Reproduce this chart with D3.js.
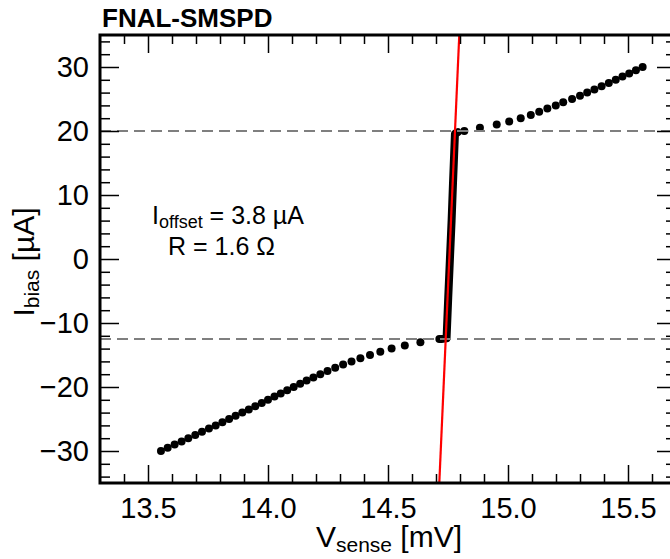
<!DOCTYPE html>
<html>
<head>
<meta charset="utf-8">
<script src="https://cdn.jsdelivr.net/npm/d3@7"></script>
<style>
  body { margin: 0; background: #fff; }
  svg text { font-family: "Liberation Sans", Arial, Helvetica, sans-serif; fill: #000; }
</style>
</head>
<body>
<div id="chart"></div>
<script>
// I-V scan, values
// lower (superconducting -> normal) branch
const lowerI = [-30, -29.5, -29, -28.5, -28, -27.5, -27, -26.5, -26, -25.5, -25, -24.5,
  -24, -23.5, -23, -22.5, -22, -21.5, -21, -20.5, -20, -19.5, -19, -18.5, -18, -17.5,
  -17, -16.5, -16, -15.5, -15, -14.5, -14, -13.5, -13, -12.5];
const lowerV = [13.554, 13.582, 13.611, 13.64, 13.668, 13.697, 13.725, 13.754, 13.782,
  13.81, 13.838, 13.865, 13.893, 13.92, 13.947, 13.974, 14.0, 14.027, 14.053, 14.08,
  14.107, 14.134, 14.161, 14.189, 14.218, 14.248, 14.28, 14.313, 14.348, 14.385,
  14.425, 14.468, 14.515, 14.57, 14.635, 14.714];

// upper branch
const upperI = [20, 20.5, 21, 21.5, 22, 22.5, 23, 23.5, 24, 24.5, 25, 25.5, 26, 26.5,
  27, 27.5, 28, 28.5, 29, 29.5, 30];
const upperV = [14.818, 14.883, 14.953, 15.005, 15.053, 15.095, 15.13, 15.164, 15.199,
  15.23, 15.267, 15.3, 15.33, 15.36, 15.39, 15.42, 15.449, 15.477, 15.505, 15.533, 15.561];

// steep (dense) part of the scan
const transI = [-12.5, -12.4, -6, 0, 6, 12, 19.6, 19.8];
const transV = [14.722, 14.744, 14.751, 14.758, 14.765, 14.771, 14.779, 14.79];

// linear fit
const fitV = [14.7137, 14.797];
const fitI = [-35, 35];

// switching thresholds
const levels = [20, -12.5];

const xMajor = [13.5, 14.0, 14.5, 15.0, 15.5];
const yMajor = [-30, -20, -10, 0, 10, 20, 30];

const W = 670, H = 559;
const margin = { top: 35, left: 100, bottom: 76 };

const svg = d3.select("#chart").append("svg")
  .attr("width", W)
  .attr("height", H);

const x = d3.scaleLinear().domain([13.3, 15.7]).range([margin.left, 676]);
const y = d3.scaleLinear().domain([-35, 35]).range([H - margin.bottom, margin.top]);

const xMinor = d3.range(134, 157).map(d => d / 10).filter(d => !xMajor.includes(d));
const yMinor = d3.range(-34, 35, 2).filter(d => !yMajor.includes(d));

// title
svg.append("text")
  .attr("x", 102)
  .attr("y", 27)
  .attr("font-size", 26)
  .attr("font-weight", "bold")
  .text("FNAL-SMSPD");

// points
const lower = lowerV.map((v, i) => ({ v: v, i: lowerI[i] }));
const upper = upperV.map((v, i) => ({ v: v, i: upperI[i] }));
const trans = transV.map((v, i) => ({ v: v, i: transI[i] }));

svg.append("path")
  .datum(trans)
  .attr("fill", "none")
  .attr("stroke", "#000")
  .attr("stroke-width", 8)
  .attr("stroke-linecap", "round")
  .attr("stroke-linejoin", "round")
  .attr("d", d3.line().x(d => x(d.v)).y(d => y(d.i)));

svg.append("g")
  .selectAll("circle")
  .data(lower.concat(upper))
  .join("circle")
  .attr("cx", d => x(d.v))
  .attr("cy", d => y(d.i))
  .attr("r", 4)
  .attr("fill", "#000");

// dashed threshold lines
svg.append("g")
  .selectAll("line")
  .data(levels)
  .join("line")
  .attr("x1", x.range()[0])
  .attr("x2", x.range()[1])
  .attr("y1", d => y(d))
  .attr("y2", d => y(d))
  .attr("stroke", "#7f7f7f")
  .attr("stroke-width", 2.2)
  .attr("stroke-dasharray", "11,6");

// fit line
svg.append("line")
  .attr("x1", x(fitV[0]))
  .attr("y1", y(fitI[0]))
  .attr("x2", x(fitV[1]))
  .attr("y2", y(fitI[1]))
  .attr("stroke", "#ff0000")
  .attr("stroke-width", 2.2);

// axes, ticks pointing inward on all four sides
function styleAxis(g) {
  g.select(".domain").remove();
  g.selectAll(".tick line").attr("stroke", "#000").attr("stroke-width", 1.5);
  g.selectAll("text").attr("font-size", 29).attr("font-family", null);
}

const bottomY = y.range()[0], topY = y.range()[1];
const leftX = x.range()[0], rightX = x.range()[1];

svg.append("g")
  .attr("transform", `translate(0,${bottomY})`)
  .call(d3.axisBottom(x).tickValues(xMajor).tickSize(-18).tickPadding(14).tickFormat(d3.format(".1f")))
  .call(styleAxis);
svg.append("g")
  .attr("transform", `translate(0,${bottomY})`)
  .call(d3.axisBottom(x).tickValues(xMinor).tickSize(-9).tickFormat(""))
  .call(styleAxis);
svg.append("g")
  .attr("transform", `translate(0,${topY})`)
  .call(d3.axisTop(x).tickValues(xMajor).tickSize(-18).tickFormat(""))
  .call(styleAxis);
svg.append("g")
  .attr("transform", `translate(0,${topY})`)
  .call(d3.axisTop(x).tickValues(xMinor).tickSize(-9).tickFormat(""))
  .call(styleAxis);

svg.append("g")
  .attr("transform", `translate(${leftX},0)`)
  .call(d3.axisLeft(y).tickValues(yMajor).tickSize(-19).tickPadding(11))
  .call(styleAxis);
svg.append("g")
  .attr("transform", `translate(${leftX},0)`)
  .call(d3.axisLeft(y).tickValues(yMinor).tickSize(-10).tickFormat(""))
  .call(styleAxis);
svg.append("g")
  .attr("transform", `translate(${rightX},0)`)
  .call(d3.axisRight(y).tickValues(yMajor).tickSize(-19).tickFormat(""))
  .call(styleAxis);
svg.append("g")
  .attr("transform", `translate(${rightX},0)`)
  .call(d3.axisRight(y).tickValues(yMinor).tickSize(-10).tickFormat(""))
  .call(styleAxis);

// frame
svg.append("rect")
  .attr("x", leftX)
  .attr("y", topY)
  .attr("width", rightX - leftX)
  .attr("height", bottomY - topY)
  .attr("fill", "none")
  .attr("stroke", "#000")
  .attr("stroke-width", 3);

// axis titles
const xt = svg.append("text")
  .attr("x", 389)
  .attr("y", 547)
  .attr("text-anchor", "middle")
  .attr("font-size", 30);
xt.append("tspan").text("V");
xt.append("tspan").attr("font-size", 21).attr("dy", 5).text("sense");
xt.append("tspan").attr("dy", -5).text(" [mV]");

const yt = svg.append("text")
  .attr("transform", "translate(34,262) rotate(-90)")
  .attr("text-anchor", "middle")
  .attr("font-size", 30);
yt.append("tspan").text("I");
yt.append("tspan").attr("font-size", 21).attr("dy", 5).text("bias");
yt.append("tspan").attr("dy", -5).text(" [\u00b5A]");

// fit annotation
const a1 = svg.append("text")
  .attr("x", 152)
  .attr("y", 224)
  .attr("font-size", 25);
a1.append("tspan").text("I");
a1.append("tspan").attr("font-size", 18).attr("dy", 4).text("offset");
a1.append("tspan").attr("dy", -4).text(" = 3.8 \u00b5A");

svg.append("text")
  .attr("x", 168)
  .attr("y", 255)
  .attr("font-size", 25)
  .text("R = 1.6 \u03a9");
</script>
</body>
</html>
